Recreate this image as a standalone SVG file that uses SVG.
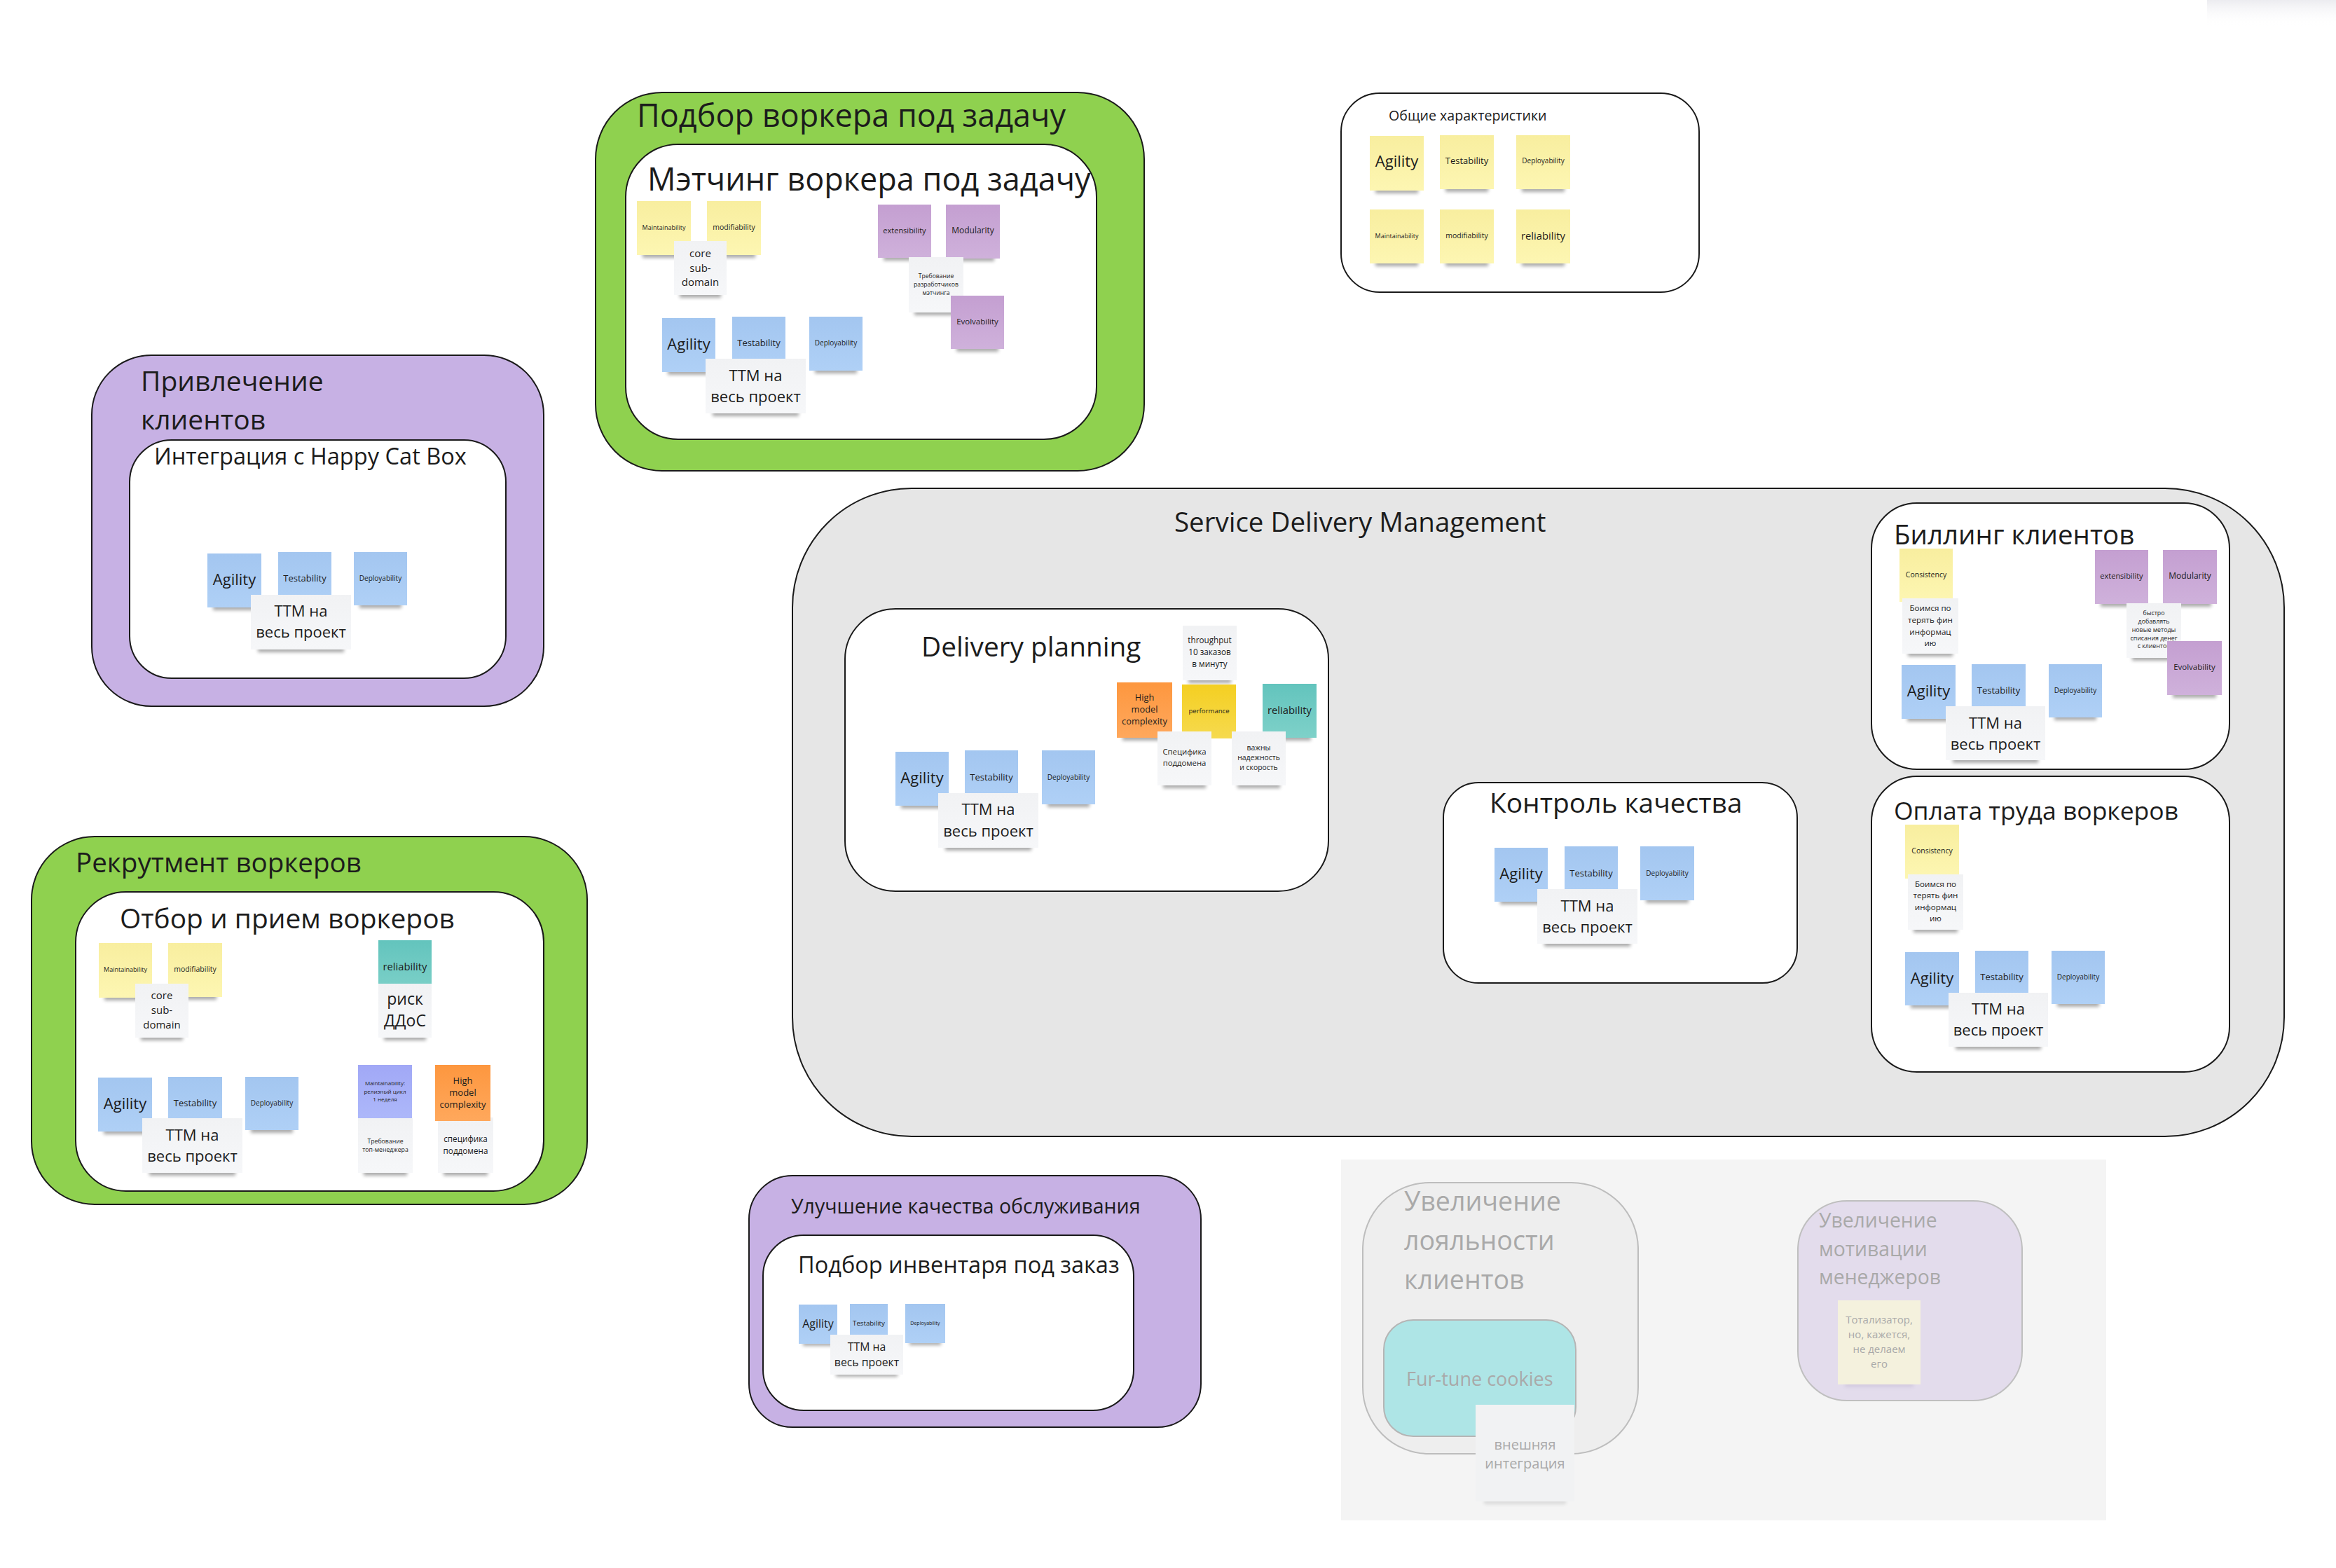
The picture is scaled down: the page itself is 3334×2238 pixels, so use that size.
<svg xmlns="http://www.w3.org/2000/svg" width="3334" height="2238" viewBox="0 0 3334 2238">
<defs>
<filter id="bl" x="-20%" y="-200%" width="140%" height="500%"><feGaussianBlur stdDeviation="2.6"/></filter>
<linearGradient id="gy" x1="0" y1="0" x2="0" y2="1"><stop offset="0" stop-color="#f8ee9f"/><stop offset="1" stop-color="#fdf6b2"/></linearGradient>
<linearGradient id="gb" x1="0" y1="0" x2="0" y2="1"><stop offset="0" stop-color="#a3c6f0"/><stop offset="1" stop-color="#afd0f6"/></linearGradient>
<linearGradient id="gp" x1="0" y1="0" x2="0" y2="1"><stop offset="0" stop-color="#c49fd1"/><stop offset="1" stop-color="#cfb1db"/></linearGradient>
<linearGradient id="gw" x1="0" y1="0" x2="0" y2="1"><stop offset="0" stop-color="#f1f2f4"/><stop offset="1" stop-color="#f6f7f9"/></linearGradient>
<linearGradient id="go" x1="0" y1="0" x2="0" y2="1"><stop offset="0" stop-color="#fd973f"/><stop offset="1" stop-color="#ffa85c"/></linearGradient>
<linearGradient id="gg" x1="0" y1="0" x2="0" y2="1"><stop offset="0" stop-color="#f4cf22"/><stop offset="1" stop-color="#f6da4e"/></linearGradient>
<linearGradient id="gt" x1="0" y1="0" x2="0" y2="1"><stop offset="0" stop-color="#63c4bd"/><stop offset="1" stop-color="#7ed1c9"/></linearGradient>
<linearGradient id="gv" x1="0" y1="0" x2="0" y2="1"><stop offset="0" stop-color="#a1a8f6"/><stop offset="1" stop-color="#adb8fa"/></linearGradient>
<linearGradient id="gtr" x1="0" y1="0" x2="0" y2="1"><stop offset="0" stop-color="#ececf0"/><stop offset="1" stop-color="#ffffff" stop-opacity="0"/></linearGradient>
</defs>
<style>
text{font-family:"Open Sans","DejaVu Sans",sans-serif;fill:#1c1c1c}
.s text{text-anchor:middle}
.sh{fill:#000;opacity:.33;filter:url(#bl)}
.box{stroke:#1a1a1a;stroke-width:2}
.gr{fill:#8fd14f}
.pu{fill:#c7b1e4}
.wh{fill:#ffffff}
.sd{fill:#e6e6e6}
.y{fill:url(#gy)}
.b{fill:url(#gb)}
.p{fill:url(#gp)}
.w{fill:url(#gw)}
.o{fill:url(#go)}
.g{fill:url(#gg)}
.t{fill:url(#gt)}
.v{fill:url(#gv)}
.ttl{font-size:38.6px}
.ag{font-size:22px}
.te{font-size:13px}
.de{font-size:10px}
.ma{font-size:9px}
.mo{font-size:10.5px}
.re{font-size:14.8px}
.ex{font-size:11px}
.md{font-size:12px}
.ev{font-size:11.5px}
.co{font-size:10.5px}
.tt{font-size:22px}
.fd text{fill:#a9a9a9}
</style>
<rect width="3334" height="2238" fill="#ffffff"/>
<rect x="3150" y="0" width="184" height="38" fill="url(#gtr)"/>

<!-- Подбор воркера под задачу -->
<g id="podbor-vorkera">
<rect class="box gr" x="850" y="132" width="783" height="540" rx="95"/>
<text x="909" y="181" style="font-size:45px">Подбор воркера под задачу</text>
<g id="matching">
<rect class="box wh" x="893" y="206" width="672" height="421" rx="75"/>
<text x="924" y="272" style="font-size:45px">Мэтчинг воркера под задачу</text>
</g>
<g id="a-maint" class="s" transform="translate(909,287)"><rect class="sh" x="8" y="72" width="61" height="9"/><rect class="y" width="77" height="77"/><text class="ma" x="38.5" y="41">Maintainability</text></g>
<g id="a-modif" class="s" transform="translate(1009,287)"><rect class="sh" x="8" y="72" width="61" height="9"/><rect class="y" width="77" height="77"/><text class="mo" x="38.5" y="41">modifiability</text></g>
<g id="a-core" class="s" transform="translate(962,344)"><rect class="sh" x="8" y="72" width="59" height="9"/><rect class="w" width="75" height="77"/><text style="font-size:15px" x="37.5"><tspan x="37.5" y="23">core</tspan><tspan x="37.5" y="43.5">sub-</tspan><tspan x="37.5" y="64">domain</tspan></text></g>
<g id="a-ext" class="s" transform="translate(1253,292)"><rect class="sh" x="8" y="71" width="60" height="9"/><rect class="p" width="76" height="76"/><text class="ex" x="38" y="41">extensibility</text></g>
<g id="a-modul" class="s" transform="translate(1350,292)"><rect class="sh" x="8" y="72" width="61" height="9"/><rect class="p" width="77" height="77"/><text class="md" x="38.5" y="41">Modularity</text></g>
<g id="a-treb" class="s" transform="translate(1297,367)"><rect class="sh" x="8" y="74" width="62" height="9"/><rect class="w" width="78" height="79"/><text style="font-size:8.6px"><tspan x="39" y="30">Требование</tspan><tspan x="39" y="42">разработчиков</tspan><tspan x="39" y="53.5">мэтчинга</tspan></text></g>
<g id="a-evol" class="s" transform="translate(1357,422)"><rect class="sh" x="8" y="71" width="60" height="9"/><rect class="p" width="76" height="76"/><text class="ev" x="38" y="41">Evolvability</text></g>
<g id="a-agil" class="s" transform="translate(945,454)"><rect class="sh" x="8" y="72" width="60" height="9"/><rect class="b" width="76" height="77"/><text class="ag" x="38" y="45">Agility</text></g>
<g id="a-test" class="s" transform="translate(1045,452)"><rect class="sh" x="8" y="72" width="60" height="9"/><rect class="b" width="76" height="77"/><text class="te" x="38" y="42">Testability</text></g>
<g id="a-depl" class="s" transform="translate(1155,452)"><rect class="sh" x="8" y="72" width="60" height="9"/><rect class="b" width="76" height="77"/><text class="de" x="38" y="41">Deployability</text></g>
<g id="a-ttm" class="s" transform="translate(1007,512)"><rect class="sh" x="10" y="73" width="123" height="9"/><rect class="w" width="143" height="78"/><text class="tt"><tspan x="71.5" y="32">ТТМ на</tspan><tspan x="71.5" y="62">весь проект</tspan></text></g>
</g>

<!-- Общие характеристики -->
<g id="obshchie">
<rect class="box wh" x="1914" y="133" width="511" height="284" rx="55"/>
<text x="1982" y="172" style="font-size:19.6px">Общие характеристики</text>
<g id="b-agil" class="s" transform="translate(1955,194)"><rect class="sh" x="8" y="73" width="61" height="9"/><rect class="y" width="77" height="78"/><text class="ag" x="38.5" y="44">Agility</text></g>
<g id="b-test" class="s" transform="translate(2055,193)"><rect class="sh" x="8" y="72" width="61" height="9"/><rect class="y" width="77" height="77"/><text class="te" x="38.5" y="41">Testability</text></g>
<g id="b-depl" class="s" transform="translate(2164,193)"><rect class="sh" x="8" y="72" width="61" height="9"/><rect class="y" width="77" height="77"/><text class="de" x="38.5" y="40">Deployability</text></g>
<g id="b-maint" class="s" transform="translate(1955,299)"><rect class="sh" x="8" y="72" width="61" height="9"/><rect class="y" width="77" height="77"/><text class="ma" x="38.5" y="41">Maintainability</text></g>
<g id="b-modif" class="s" transform="translate(2055,299)"><rect class="sh" x="8" y="72" width="61" height="9"/><rect class="y" width="77" height="77"/><text class="mo" x="38.5" y="41">modifiability</text></g>
<g id="b-rel" class="s" transform="translate(2164,299)"><rect class="sh" x="8" y="72" width="61" height="9"/><rect class="y" width="77" height="77"/><text class="re" x="38.5" y="43">reliability</text></g>
</g>

<!-- Привлечение клиентов -->
<g id="privlechenie">
<rect class="box pu" x="131" y="507" width="645" height="501" rx="85"/>
<text style="font-size:39px"><tspan x="201" y="558">Привлечение</tspan><tspan x="201" y="613">клиентов</tspan></text>
<g id="integraciya">
<rect class="box wh" x="185" y="628" width="537" height="340" rx="60"/>
<text x="220" y="663" style="font-size:32.6px">Интеграция с Happy Cat Box</text>
</g>
<g id="c-agil" class="s" transform="translate(296,790)"><rect class="sh" x="8" y="72" width="61" height="9"/><rect class="b" width="77" height="77"/><text class="ag" x="38.5" y="45">Agility</text></g>
<g id="c-test" class="s" transform="translate(397,788)"><rect class="sh" x="8" y="72" width="60" height="9"/><rect class="b" width="76" height="77"/><text class="te" x="38" y="41.5">Testability</text></g>
<g id="c-depl" class="s" transform="translate(505,788)"><rect class="sh" x="8" y="71" width="60" height="9"/><rect class="b" width="76" height="76"/><text class="de" x="38" y="41">Deployability</text></g>
<g id="c-ttm" class="s" transform="translate(358,849)"><rect class="sh" x="10" y="73" width="123" height="9"/><rect class="w" width="143" height="78"/><text class="tt"><tspan x="71.5" y="31">ТТМ на</tspan><tspan x="71.5" y="61">весь проект</tspan></text></g>
</g>

<!-- Рекрутмент воркеров -->
<g id="rekrutment">
<rect class="box gr" x="45" y="1194" width="793" height="525" rx="90"/>
<text x="108" y="1245" class="ttl">Рекрутмент воркеров</text>
<g id="otbor">
<rect class="box wh" x="108" y="1273" width="668" height="427" rx="72"/>
<text x="171" y="1325" style="font-size:38.9px">Отбор и прием воркеров</text>
</g>
<g id="d-maint" class="s" transform="translate(141,1346)"><rect class="sh" x="8" y="73" width="60" height="9"/><rect class="y" width="76" height="78"/><text class="ma" x="38" y="41">Maintainability</text></g>
<g id="d-modif" class="s" transform="translate(240,1346)"><rect class="sh" x="8" y="72" width="61" height="9"/><rect class="y" width="77" height="77"/><text class="mo" x="38.5" y="41">modifiability</text></g>
<g id="d-core" class="s" transform="translate(193,1404)"><rect class="sh" x="8" y="72" width="60" height="9"/><rect class="w" width="76" height="77"/><text style="font-size:15px"><tspan x="38" y="22">core</tspan><tspan x="38" y="43">sub-</tspan><tspan x="38" y="64">domain</tspan></text></g>
<g id="d-rel" class="s" transform="translate(540,1342)"><rect class="t" width="76" height="77"/><text class="re" x="38" y="43">reliability</text></g>
<g id="d-risk" class="s" transform="translate(540,1404)"><rect class="sh" x="8" y="72" width="60" height="9"/><rect class="w" width="76" height="77"/><text style="font-size:23px"><tspan x="38" y="30">риск</tspan><tspan x="38" y="61">ДДоС</tspan></text></g>
<g id="d-agil" class="s" transform="translate(140,1538)"><rect class="sh" x="8" y="72" width="61" height="9"/><rect class="b" width="77" height="77"/><text class="ag" x="38.5" y="45">Agility</text></g>
<g id="d-test" class="s" transform="translate(240,1537)"><rect class="sh" x="8" y="72" width="61" height="9"/><rect class="b" width="77" height="77"/><text class="te" x="38.5" y="41.5">Testability</text></g>
<g id="d-depl" class="s" transform="translate(350,1537)"><rect class="sh" x="8" y="71" width="60" height="9"/><rect class="b" width="76" height="76"/><text class="de" x="38" y="41">Deployability</text></g>
<g id="d-ttm" class="s" transform="translate(203,1596)"><rect class="sh" x="10" y="73" width="123" height="9"/><rect class="w" width="143" height="78"/><text class="tt"><tspan x="71.5" y="32">ТТМ на</tspan><tspan x="71.5" y="62">весь проект</tspan></text></g>
<g id="d-mrel" class="s" transform="translate(511,1520)"><rect class="v" width="77" height="77"/><text style="font-size:8px"><tspan x="38.5" y="29">Maintainability:</tspan><tspan x="38.5" y="41">релизный цикл</tspan><tspan x="38.5" y="52">1 неделя</tspan></text></g>
<g id="d-treb" class="s" transform="translate(511,1596)"><rect class="sh" x="8" y="73" width="62" height="9"/><rect class="w" width="78" height="78"/><text style="font-size:8.7px"><tspan x="39" y="36">Требование</tspan><tspan x="39" y="47.5">топ-менеджера</tspan></text></g>
<g id="d-spec" class="s" transform="translate(625,1595)"><rect class="sh" x="8" y="74" width="63" height="9"/><rect class="w" width="79" height="79"/><text style="font-size:11.7px"><tspan x="39.5" y="35">специфика</tspan><tspan x="39.5" y="52">поддомена</tspan></text></g>
<g id="d-hmc" class="s" transform="translate(621,1520)"><rect class="o" width="79" height="80"/><text style="font-size:13px"><tspan x="39.5" y="26.5">High</tspan><tspan x="39.5" y="43.5">model</tspan><tspan x="39.5" y="60.5">complexity</tspan></text></g>
</g>

<!-- Service Delivery Management -->
<g id="sdm">
<rect class="box sd" x="1131" y="697" width="2129" height="925" rx="170"/>
<text x="1676" y="759" style="font-size:38.5px">Service Delivery Management</text>
</g>

<g id="delivery-planning">
<rect class="box wh" x="1206" y="869" width="690" height="403" rx="72"/>
<text x="1315" y="937" style="font-size:38.8px">Delivery planning</text>
<g id="e-agil" class="s" transform="translate(1278,1073)"><rect class="sh" x="8" y="72" width="60" height="9"/><rect class="b" width="76" height="77"/><text class="ag" x="38" y="45">Agility</text></g>
<g id="e-test" class="s" transform="translate(1377,1071)"><rect class="sh" x="8" y="72" width="60" height="9"/><rect class="b" width="76" height="77"/><text class="te" x="38" y="42.5">Testability</text></g>
<g id="e-depl" class="s" transform="translate(1487,1071)"><rect class="sh" x="8" y="72" width="60" height="9"/><rect class="b" width="76" height="77"/><text class="de" x="38" y="42">Deployability</text></g>
<g id="e-ttm" class="s" transform="translate(1339,1132)"><rect class="sh" x="10" y="73" width="123" height="9"/><rect class="w" width="143" height="78"/><text class="tt"><tspan x="71.5" y="31">ТТМ на</tspan><tspan x="71.5" y="62">весь проект</tspan></text></g>
<g id="e-thr" class="s" transform="translate(1688,893)"><rect class="sh" x="8" y="73" width="61" height="9"/><rect class="w" width="77" height="78"/><text style="font-size:11.7px"><tspan x="38.5" y="25">throughput</tspan><tspan x="38.5" y="42">10 заказов</tspan><tspan x="38.5" y="59">в минуту</tspan></text></g>
<g id="e-hmc" class="s" transform="translate(1594,974)"><rect class="sh" x="8" y="74" width="63" height="9"/><rect class="o" width="79" height="79"/><text style="font-size:12.8px"><tspan x="39.5" y="25.5">High</tspan><tspan x="39.5" y="42.5">model</tspan><tspan x="39.5" y="60">complexity</tspan></text></g>
<g id="e-perf" class="s" transform="translate(1687,977)"><rect class="g" width="77" height="77"/><text style="font-size:9.6px" x="38.5" y="40.5">performance</text></g>
<g id="e-rel" class="s" transform="translate(1802,976)"><rect class="sh" x="8" y="72" width="61" height="9"/><rect class="t" width="77" height="77"/><text class="re" x="38.5" y="43">reliability</text></g>
<g id="e-spec" class="s" transform="translate(1652,1044)"><rect class="sh" x="8" y="72" width="61" height="9"/><rect class="w" width="77" height="77"/><text style="font-size:11.3px"><tspan x="38.5" y="33">Специфика</tspan><tspan x="38.5" y="49">поддомена</tspan></text></g>
<g id="e-vazh" class="s" transform="translate(1758,1044)"><rect class="sh" x="8" y="72" width="61" height="9"/><rect class="w" width="77" height="77"/><text style="font-size:10.4px"><tspan x="38.5" y="26.5">важны</tspan><tspan x="38.5" y="40.5">надежность</tspan><tspan x="38.5" y="54.5">и скорость</tspan></text></g>
</g>

<g id="kontrol">
<rect class="box wh" x="2060" y="1117" width="505" height="286" rx="50"/>
<text x="2126" y="1160" style="font-size:38.9px">Контроль качества</text>
<g id="f-agil" class="s" transform="translate(2133,1210)"><rect class="sh" x="8" y="72" width="60" height="9"/><rect class="b" width="76" height="77"/><text class="ag" x="38" y="45">Agility</text></g>
<g id="f-test" class="s" transform="translate(2233,1208)"><rect class="sh" x="8" y="72" width="60" height="9"/><rect class="b" width="76" height="77"/><text class="te" x="38" y="42.5">Testability</text></g>
<g id="f-depl" class="s" transform="translate(2341,1208)"><rect class="sh" x="8" y="72" width="61" height="9"/><rect class="b" width="77" height="77"/><text class="de" x="38.5" y="42">Deployability</text></g>
<g id="f-ttm" class="s" transform="translate(2194,1269)"><rect class="sh" x="10" y="73" width="123" height="9"/><rect class="w" width="143" height="78"/><text class="tt"><tspan x="71.5" y="32">ТТМ на</tspan><tspan x="71.5" y="62">весь проект</tspan></text></g>
</g>

<g id="billing">
<rect class="box wh" x="2671" y="718" width="511" height="380" rx="65"/>
<text x="2703" y="777" style="font-size:38.5px">Биллинг клиентов</text>
<g id="g-cons" class="s" transform="translate(2711,783)"><rect class="y" width="76" height="76"/><text class="co" x="38" y="40.5">Consistency</text></g>
<g id="g-boim" class="s" transform="translate(2715,854)"><rect class="sh" x="8" y="74" width="64" height="9"/><rect class="w" width="80" height="79"/><text style="font-size:11.6px"><tspan x="40" y="18">Боимся по</tspan><tspan x="40" y="35">терять фин</tspan><tspan x="40" y="52">информац</tspan><tspan x="40" y="68">ию</tspan></text></g>
<g id="g-ext" class="s" transform="translate(2990,785)"><rect class="sh" x="8" y="72" width="60" height="9"/><rect class="p" width="76" height="77"/><text class="ex" x="38" y="41">extensibility</text></g>
<g id="g-modul" class="s" transform="translate(3087,785)"><rect class="sh" x="8" y="72" width="61" height="9"/><rect class="p" width="77" height="77"/><text class="md" x="38.5" y="41">Modularity</text></g>
<g id="g-bys" class="s" transform="translate(3035,861)"><rect class="sh" x="8" y="73" width="62" height="9"/><rect class="w" width="78" height="78"/><text style="font-size:8.8px"><tspan x="39" y="17">быстро</tspan><tspan x="39" y="29">добавлять</tspan><tspan x="39" y="41">новые методы</tspan><tspan x="39" y="53">списания денег</tspan><tspan x="39" y="64">с клиентов</tspan></text></g>
<g id="g-evol" class="s" transform="translate(3093,915)"><rect class="sh" x="8" y="72" width="62" height="9"/><rect class="p" width="78" height="77"/><text class="ev" x="39" y="41">Evolvability</text></g>
<g id="g-agil" class="s" transform="translate(2714,949)"><rect class="sh" x="8" y="72" width="61" height="9"/><rect class="b" width="77" height="77"/><text class="ag" x="38.5" y="45">Agility</text></g>
<g id="g-test" class="s" transform="translate(2814,948)"><rect class="sh" x="8" y="72" width="61" height="9"/><rect class="b" width="77" height="77"/><text class="te" x="38.5" y="41.5">Testability</text></g>
<g id="g-depl" class="s" transform="translate(2924,948)"><rect class="sh" x="8" y="71" width="60" height="9"/><rect class="b" width="76" height="76"/><text class="de" x="38" y="41">Deployability</text></g>
<g id="g-ttm" class="s" transform="translate(2777,1008)"><rect class="sh" x="10" y="72" width="122" height="9"/><rect class="w" width="142" height="77"/><text class="tt"><tspan x="71" y="32">ТТМ на</tspan><tspan x="71" y="62">весь проект</tspan></text></g>
</g>

<g id="oplata">
<rect class="box wh" x="2671" y="1108" width="511" height="422" rx="65"/>
<text x="2703" y="1170" style="font-size:35.5px">Оплата труда воркеров</text>
<g id="h-cons" class="s" transform="translate(2719,1177)"><rect class="y" width="77" height="77"/><text class="co" x="38.5" y="40.5">Consistency</text></g>
<g id="h-boim" class="s" transform="translate(2723,1248)"><rect class="sh" x="8" y="74" width="63" height="9"/><rect class="w" width="79" height="79"/><text style="font-size:11.6px"><tspan x="39.5" y="18">Боимся по</tspan><tspan x="39.5" y="34">терять фин</tspan><tspan x="39.5" y="51">информац</tspan><tspan x="39.5" y="67">ию</tspan></text></g>
<g id="h-agil" class="s" transform="translate(2719,1359)"><rect class="sh" x="8" y="71" width="61" height="9"/><rect class="b" width="77" height="76"/><text class="ag" x="38.5" y="45">Agility</text></g>
<g id="h-test" class="s" transform="translate(2819,1357)"><rect class="sh" x="8" y="72" width="60" height="9"/><rect class="b" width="76" height="77"/><text class="te" x="38" y="41.5">Testability</text></g>
<g id="h-depl" class="s" transform="translate(2928,1357)"><rect class="sh" x="8" y="71" width="60" height="9"/><rect class="b" width="76" height="76"/><text class="de" x="38" y="41">Deployability</text></g>
<g id="h-ttm" class="s" transform="translate(2781,1417)"><rect class="sh" x="10" y="72" width="122" height="9"/><rect class="w" width="142" height="77"/><text class="tt"><tspan x="71" y="31">ТТМ на</tspan><tspan x="71" y="61">весь проект</tspan></text></g>
</g>

<!-- Улучшение качества обслуживания -->
<g id="uluchshenie">
<rect class="box pu" x="1069" y="1678" width="645" height="359" rx="62"/>
<text x="1129" y="1732" style="font-size:28.5px">Улучшение качества обслуживания</text>
<g id="podbor-inventarya">
<rect class="box wh" x="1089" y="1763" width="529" height="250" rx="58"/>
<text x="1139" y="1817" style="font-size:32.5px">Подбор инвентаря под заказ</text>
</g>
<g id="i-agil" class="s" transform="translate(1140,1862)"><rect class="sh" x="6" y="52" width="43" height="7"/><rect class="b" width="55" height="56"/><text style="font-size:16px" x="27.5" y="33">Agility</text></g>
<g id="i-test" class="s" transform="translate(1213,1861)"><rect class="sh" x="6" y="52" width="42" height="7"/><rect class="b" width="54" height="56"/><text style="font-size:9.7px" x="27" y="30.5">Testability</text></g>
<g id="i-depl" class="s" transform="translate(1292,1861)"><rect class="sh" x="6" y="52" width="45" height="7"/><rect class="b" width="57" height="56"/><text style="font-size:7px" x="28.5" y="29.5">Deployability</text></g>
<g id="i-ttm" class="s" transform="translate(1185,1905)"><rect class="sh" x="8" y="53" width="88" height="7"/><rect class="w" width="104" height="57"/><text style="font-size:15.8px"><tspan x="52" y="23">ТТМ на</tspan><tspan x="52" y="45">весь проект</tspan></text></g>
</g>

<!-- faded area -->
<g id="faded-area" class="fd">
<rect x="1914" y="1655" width="1092" height="515" fill="#f4f4f4"/>
<g id="loyalnost">
<rect x="1945" y="1688" width="393" height="387" rx="95" fill="#eeeeee" stroke="#bdbdbd" stroke-width="2"/>
<text style="font-size:37.6px"><tspan x="2004" y="1728">Увеличение</tspan><tspan x="2004" y="1784">лояльности</tspan><tspan x="2004" y="1840">клиентов</tspan></text>
</g>
<g id="furtune">
<rect x="1975" y="1884" width="274" height="166" rx="42" fill="#aee5e6" stroke="#b5b5b5" stroke-width="2"/>
<text x="2007" y="1978" style="font-size:27px">Fur-tune cookies</text>
</g>
<g id="vneshnyaya" class="s" transform="translate(2106,2005)"><rect x="12" y="132" width="117" height="10" fill="#000" opacity=".1" filter="url(#bl)"/><rect width="141" height="138" fill="#f1f2f3"/><text style="font-size:20px"><tspan x="70.5" y="64">внешняя</tspan><tspan x="70.5" y="91">интеграция</tspan></text></g>
<g id="motivaciya">
<rect x="2566" y="1714" width="320" height="285" rx="70" fill="#e3dcec" stroke="#bfbfbf" stroke-width="2"/>
<text style="font-size:28.3px"><tspan x="2596" y="1752">Увеличение</tspan><tspan x="2596" y="1793">мотивации</tspan><tspan x="2596" y="1833">менеджеров</tspan></text>
</g>
<g id="totalizator" class="s" transform="translate(2623,1856)"><rect x="10" y="115" width="98" height="9" fill="#7a6a9a" opacity=".15" filter="url(#bl)"/><rect width="118" height="120" fill="#f4f1dd"/><text style="font-size:15px"><tspan x="59" y="33">Тотализатор,</tspan><tspan x="59" y="54">но, кажется,</tspan><tspan x="59" y="75">не делаем</tspan><tspan x="59" y="96">его</tspan></text></g>
</g>

<g id="connectors"/>
</svg>
